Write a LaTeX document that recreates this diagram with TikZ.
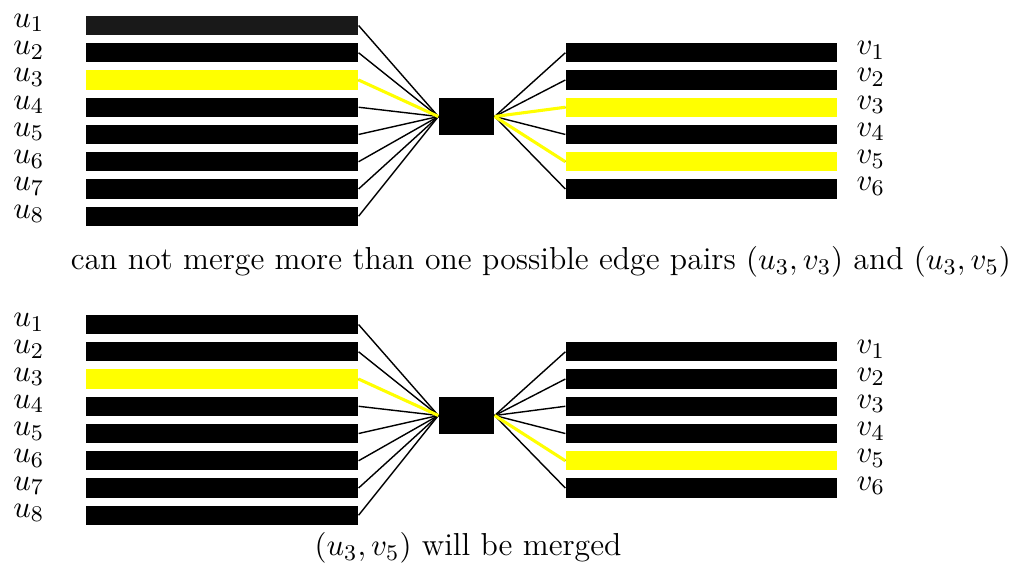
\documentclass[tikz,border=0pt]{standalone}
\usepackage{amsmath}
\usepackage{xcolor}
\usepackage{tikz}
\usetikzlibrary{positioning}
\definecolor{markyellow}{RGB}{255,255,0}

\begin{document}
\begin{tikzpicture}[
  x=1cm,
  y=1cm,
  font=\fontsize{11.3}{13.5}\selectfont,
  bar/.style={minimum width=3.40cm, minimum height=0.24cm, inner sep=0pt},
  hub/.style={fill=black, minimum width=0.69cm, minimum height=0.46cm, inner sep=0pt},
  vlabel/.style={anchor=west, inner sep=0pt},
  wire/.style={draw=black, line width=0.5pt},
  pick/.style={draw=markyellow, line width=1.1pt}
]
\useasboundingbox (0,0) rectangle (12.7125,7.0875);

% Upper panel: two edge pairs compete
\foreach \i/\c in {1/black!90,2/black,3/markyellow,4/black,5/black,6/black,7/black,8/black}{
  \node[bar, fill=\c] (tu\i) at (2.775,{6.769-0.3406*(\i-1)}) {};
  \node[vlabel] (tul\i) at (0.16,{6.80-0.3406*(\i-1)}) {$u_{\i}$};
}
\foreach \j/\c in {1/black,2/black,3/markyellow,4/black,5/markyellow,6/black}{
  \node[bar, fill=\c, minimum width=3.39cm] (tv\j) at (8.769,{6.769-0.3406*\j}) {};
  \node[vlabel] (tvl\j) at (10.70,{6.80-0.3406*\j}) {$v_{\j}$};
}
\node[hub] (thub) at (5.831,5.631) {};

\foreach \i in {1,...,8} \draw[wire] (tu\i.east) -- (thub.west);
\foreach \j in {1,...,6} \draw[wire] (thub.east) -- (tv\j.west);
\draw[pick] (tu3.east) -- (thub.west);
\draw[pick] (thub.east) -- (tv3.west);
\draw[pick] (thub.east) -- (tv5.west);

\node (tnote) at (6.76,3.81)
      {can not merge more than one possible edge pairs $(u_3,v_3)$ and $(u_3,v_5)$};

% Lower panel: one pair is merged
\foreach \i/\c in {1/black,2/black,3/markyellow,4/black,5/black,6/black,7/black,8/black}{
  \node[bar, fill=\c] (bu\i) at (2.775,{3.031-0.3406*(\i-1)}) {};
  \node[vlabel] (bul\i) at (0.16,{3.06-0.3406*(\i-1)}) {$u_{\i}$};
}
\foreach \j/\c in {1/black,2/black,3/black,4/black,5/markyellow,6/black}{
  \node[bar, fill=\c, minimum width=3.39cm] (bv\j) at (8.769,{3.031-0.3406*\j}) {};
  \node[vlabel] (bvl\j) at (10.70,{3.06-0.3406*\j}) {$v_{\j}$};
}
\node[hub] (bhub) at (5.831,1.894) {};

\foreach \i in {1,...,8} \draw[wire] (bu\i.east) -- (bhub.west);
\foreach \j in {1,...,6} \draw[wire] (bhub.east) -- (bv\j.west);
\draw[pick] (bu3.east) -- (bhub.west);
\draw[pick] (bhub.east) -- (bv5.west);

\node (bnote) at (5.85,0.24) {$(u_3,v_5)$ will be merged};
\end{tikzpicture}
\end{document}
